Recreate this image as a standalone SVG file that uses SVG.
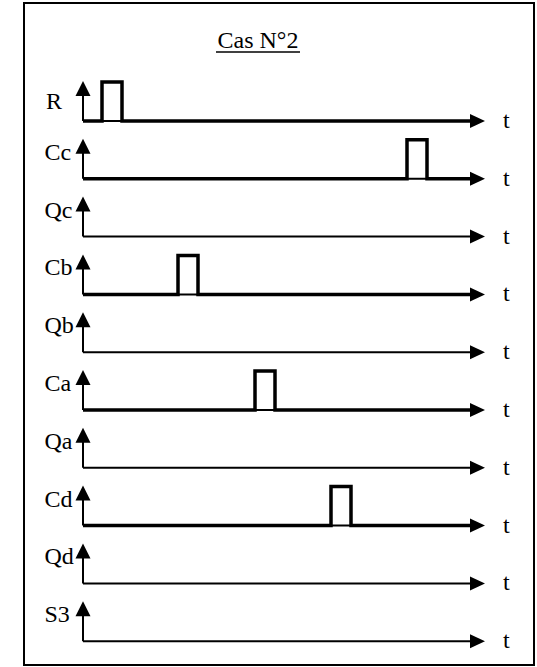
<svg xmlns="http://www.w3.org/2000/svg" xmlns:xlink="http://www.w3.org/1999/xlink" width="537" height="667" viewBox="0 0 537 667">
<style>
.lbl{font-family:"Liberation Serif","Times New Roman",serif;font-size:24px;fill:#000}
.ttl{font-family:"Liberation Serif","Times New Roman",serif;font-size:24px;fill:#000}
.ax{stroke:#000;stroke-width:2;fill:none}
.sig{stroke:#000;stroke-width:3.5;fill:none;stroke-linejoin:miter}
</style>
<defs>
<path id="ha" d="M0,0 L-15,-7 L-15,7 Z" fill="#000"/>
<path id="va" d="M0,0 L-7.5,15 L7.5,15 Z" fill="#000"/>
</defs>
<rect x="24" y="3" width="510" height="662" fill="#fff" stroke="#000" stroke-width="2"/>
<g id="title">
<text class="ttl" x="258" y="48" text-anchor="middle">Cas N°2</text>
<line x1="216" y1="52" x2="300" y2="52" stroke="#000" stroke-width="1.5"/>
</g>
<g id="connectors">
<g id="row-R" transform="translate(0,121)">
<text class="lbl" x="46" y="-12">R</text>
<line class="ax" x1="83" y1="0" x2="83" y2="-28"/><use xlink:href="#va" x="83" y="-40"/>
<line class="ax" x1="83" y1="0" x2="472" y2="0"/><use xlink:href="#ha" x="485" y="0"/>
<polyline class="sig" points="83,0 102,0 102,-39 122,-39 122,0 472,0"/>
<text class="lbl" x="503" y="7">t</text>
</g>
<g id="row-Cc" transform="translate(0,178.8)">
<text class="lbl" x="44.5" y="-19">Cc</text>
<line class="ax" x1="83" y1="0" x2="83" y2="-28"/><use xlink:href="#va" x="83" y="-40"/>
<line class="ax" x1="83" y1="0" x2="472" y2="0"/><use xlink:href="#ha" x="485" y="0"/>
<polyline class="sig" points="83,0 407,0 407,-39 427,-39 427,0 472,0"/>
<text class="lbl" x="503" y="7">t</text>
</g>
<g id="row-Qc" transform="translate(0,236.6)">
<text class="lbl" x="44.5" y="-19">Qc</text>
<line class="ax" x1="83" y1="0" x2="83" y2="-28"/><use xlink:href="#va" x="83" y="-40"/>
<line class="ax" x1="83" y1="0" x2="472" y2="0"/><use xlink:href="#ha" x="485" y="0"/>
<text class="lbl" x="503" y="7">t</text>
</g>
<g id="row-Cb" transform="translate(0,294.4)">
<text class="lbl" x="44.5" y="-19">Cb</text>
<line class="ax" x1="83" y1="0" x2="83" y2="-28"/><use xlink:href="#va" x="83" y="-40"/>
<line class="ax" x1="83" y1="0" x2="472" y2="0"/><use xlink:href="#ha" x="485" y="0"/>
<polyline class="sig" points="83,0 178,0 178,-39 198,-39 198,0 472,0"/>
<text class="lbl" x="503" y="7">t</text>
</g>
<g id="row-Qb" transform="translate(0,352.2)">
<text class="lbl" x="44.5" y="-19">Qb</text>
<line class="ax" x1="83" y1="0" x2="83" y2="-28"/><use xlink:href="#va" x="83" y="-40"/>
<line class="ax" x1="83" y1="0" x2="472" y2="0"/><use xlink:href="#ha" x="485" y="0"/>
<text class="lbl" x="503" y="7">t</text>
</g>
<g id="row-Ca" transform="translate(0,410)">
<text class="lbl" x="44.5" y="-19">Ca</text>
<line class="ax" x1="83" y1="0" x2="83" y2="-28"/><use xlink:href="#va" x="83" y="-40"/>
<line class="ax" x1="83" y1="0" x2="472" y2="0"/><use xlink:href="#ha" x="485" y="0"/>
<polyline class="sig" points="83,0 255,0 255,-39 275,-39 275,0 472,0"/>
<text class="lbl" x="503" y="7">t</text>
</g>
<g id="row-Qa" transform="translate(0,467.8)">
<text class="lbl" x="44.5" y="-19">Qa</text>
<line class="ax" x1="83" y1="0" x2="83" y2="-28"/><use xlink:href="#va" x="83" y="-40"/>
<line class="ax" x1="83" y1="0" x2="472" y2="0"/><use xlink:href="#ha" x="485" y="0"/>
<text class="lbl" x="503" y="7">t</text>
</g>
<g id="row-Cd" transform="translate(0,525.6)">
<text class="lbl" x="44.5" y="-19">Cd</text>
<line class="ax" x1="83" y1="0" x2="83" y2="-28"/><use xlink:href="#va" x="83" y="-40"/>
<line class="ax" x1="83" y1="0" x2="472" y2="0"/><use xlink:href="#ha" x="485" y="0"/>
<polyline class="sig" points="83,0 331,0 331,-39 351,-39 351,0 472,0"/>
<text class="lbl" x="503" y="7">t</text>
</g>
<g id="row-Qd" transform="translate(0,583.4)">
<text class="lbl" x="44.5" y="-19">Qd</text>
<line class="ax" x1="83" y1="0" x2="83" y2="-28"/><use xlink:href="#va" x="83" y="-40"/>
<line class="ax" x1="83" y1="0" x2="472" y2="0"/><use xlink:href="#ha" x="485" y="0"/>
<text class="lbl" x="503" y="7">t</text>
</g>
<g id="row-S3" transform="translate(0,641.2)">
<text class="lbl" x="44.5" y="-19">S3</text>
<line class="ax" x1="83" y1="0" x2="83" y2="-28"/><use xlink:href="#va" x="83" y="-40"/>
<line class="ax" x1="83" y1="0" x2="472" y2="0"/><use xlink:href="#ha" x="485" y="0"/>
<text class="lbl" x="503" y="7">t</text>
</g>
</g>
</svg>
